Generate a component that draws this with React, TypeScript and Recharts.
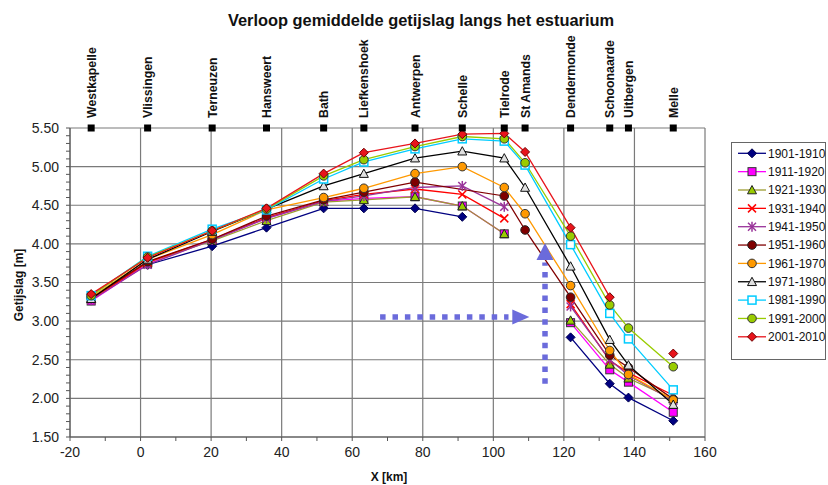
import React from 'react';
import { ComposedChart, Line, XAxis, YAxis, ReferenceLine, ReferenceDot } from 'recharts';

const FONT = 'Liberation Sans, Arial, Helvetica, sans-serif';

const stations = ['Westkapelle', 'Vlissingen', 'Terneuzen', 'Hansweert', 'Bath', 'Liefkenshoek', 'Antwerpen', 'Schelle', 'Tielrode', 'St Amands', 'Dendermonde', 'Schoonaarde', 'Uitbergen', 'Melle'];
const stationKm = [-14, 2, 20.3, 35.7, 51.9, 63.3, 77.8, 91.2, 103.1, 109.0, 121.9, 133.0, 138.3, 151.0];

const periods = ['1901-1910', '1911-1920', '1921-1930', '1931-1940', '1941-1950', '1951-1960', '1961-1970', '1971-1980', '1981-1990', '1991-2000', '2001-2010'];

const v1901 = [3.30, 3.73, 3.97, 4.21, 4.46, 4.46, 4.46, 4.35, null, null, 2.79, 2.19, 2.01, 1.71];
const v1911 = [3.26, 3.74, 4.05, 4.33, 4.55, 4.59, 4.61, 4.49, 4.13, null, 2.98, 2.37, 2.21, 1.82];
const v1921 = [3.29, 3.76, 4.04, 4.30, 4.54, 4.57, 4.61, 4.49, 4.13, null, 3.01, 2.44, 2.26, 1.99];
const v1931 = [3.28, 3.76, 4.06, 4.34, 4.56, 4.64, 4.71, 4.64, 4.33, null, 3.22, 2.49, 2.33, 2.04];
const v1941 = [3.27, 3.73, 4.05, 4.33, 4.55, 4.62, 4.73, 4.75, 4.48, null, 3.19, 2.50, 2.30, 1.97];
const v1951 = [3.30, 3.77, 4.06, 4.36, 4.57, 4.67, 4.80, null, 4.62, 4.18, 3.31, 2.56, 2.40, 1.99];
const v1961 = [3.31, 3.80, 4.12, 4.44, 4.60, 4.72, 4.91, 5.00, 4.73, 4.39, 3.46, 2.62, 2.31, 1.98];
const v1971 = [3.29, 3.80, 4.16, 4.45, 4.75, 4.91, 5.11, 5.20, 5.11, 4.73, 3.71, 2.76, 2.43, 1.92];
const v1981 = [3.33, 3.84, 4.19, 4.44, 4.84, 5.06, 5.23, 5.36, 5.33, 5.02, 3.99, 3.10, 2.77, 2.11];
const v1991 = [3.33, 3.83, 4.17, 4.45, 4.88, 5.09, 5.26, 5.39, 5.36, 5.05, 4.10, 3.21, 2.91, 2.41];
const v2001 = [3.35, 3.82, 4.17, 4.46, 4.91, 5.18, 5.30, 5.42, 5.43, 5.19, 4.21, 3.31, null, 2.58];

const seriesValues = [v1901, v1911, v1921, v1931, v1941, v1951, v1961, v1971, v1981, v1991, v2001];
const seriesColors = ['#000080', '#FF00FF', '#9C9C30', '#FF0000', '#993399', '#800000', '#FF9900', '#000000', '#00CCFF', '#99CC00', '#E8141B'];
const markerKinds = ['diamondNavy', 'squareMagenta', 'triangleOlive', 'cross', 'star', 'circleDark', 'circleOrange', 'triangleOpen', 'squareOpen', 'circleGreen', 'diamondRed'];

const xMajor = [-20, 0, 20, 40, 60, 80, 100, 120, 140, 160];
const xTicks = [-20, -10, 0, 10, 20, 30, 40, 50, 60, 70, 80, 90, 100, 110, 120, 130, 140, 150, 160];
const yMajor = [1.5, 2.0, 2.5, 3.0, 3.5, 4.0, 4.5, 5.0, 5.5];
const yTicks = Array.from({ length: 41 }, (_, i) => Math.round((1.5 + i * 0.1) * 10) / 10);

// Blue annotation arrows (data coordinates)
const arrowH = { fromKm: 67.9, toKm: 104.3, tipKm: 110.2, level: 3.055 };
const arrowV = { km: 114.65, from: 2.19, to: 3.76, tip: 4.01 };
const ARROW = '#6B6BDB';

const rows = stationKm.map((km, i) => {
  const r: any = { km };
  seriesValues.forEach((s, j) => { r['s' + j] = s[i]; });
  return r;
});

function drawMarker(kind: string, x: number, y: number) {
  switch (kind) {
    case 'diamondNavy':
      return <polygon points={`${x},${y - 4.5} ${x + 4.5},${y} ${x},${y + 4.5} ${x - 4.5},${y}`} fill="#000080" stroke="#000050" strokeWidth={1} />;
    case 'squareMagenta':
      return <rect x={x - 4} y={y - 4} width={8} height={8} fill="#FF00FF" stroke="#333" strokeWidth={1} />;
    case 'triangleOlive':
      return <polygon points={`${x},${y - 4.5} ${x + 4.5},${y + 3.8} ${x - 4.5},${y + 3.8}`} fill="#99CC00" stroke="#222" strokeWidth={1} />;
    case 'cross':
      return (
        <g stroke="#FF0000" strokeWidth={1.5}>
          <line x1={x - 4} y1={y - 4} x2={x + 4} y2={y + 4} />
          <line x1={x - 4} y1={y + 4} x2={x + 4} y2={y - 4} />
        </g>
      );
    case 'star':
      return (
        <g stroke="#993399" strokeWidth={1.5}>
          <line x1={x - 4} y1={y - 4} x2={x + 4} y2={y + 4} />
          <line x1={x - 4} y1={y + 4} x2={x + 4} y2={y - 4} />
          <line x1={x} y1={y - 5} x2={x} y2={y + 5} />
        </g>
      );
    case 'circleDark':
      return <circle cx={x} cy={y} r={4.3} fill="#800000" stroke="#222" strokeWidth={1} />;
    case 'circleOrange':
      return <circle cx={x} cy={y} r={4.3} fill="#FF9900" stroke="#333" strokeWidth={1} />;
    case 'triangleOpen':
      return <polygon points={`${x},${y - 4.5} ${x + 4.5},${y + 3.8} ${x - 4.5},${y + 3.8}`} fill="#E0E0E0" stroke="#111" strokeWidth={1} />;
    case 'squareOpen':
      return <rect x={x - 4} y={y - 4} width={8} height={8} fill="#FFFFFF" stroke="#00CCFF" strokeWidth={1.5} />;
    case 'circleGreen':
      return <circle cx={x} cy={y} r={4.3} fill="#99CC00" stroke="#333" strokeWidth={1} />;
    case 'diamondRed':
      return <polygon points={`${x},${y - 4.5} ${x + 4.5},${y} ${x},${y + 4.5} ${x - 4.5},${y}`} fill="#E8141B" stroke="#700000" strokeWidth={1} />;
    default:
      return null;
  }
}

const isMajorY = (v: number) => Math.abs(v * 2 - Math.round(v * 2)) < 1e-6;

export default function App() {
  return (
    <div style={{ position: 'absolute', left: 0, top: 0, width: 828, height: 485, background: '#fff', fontFamily: FONT }}>
      <ComposedChart width={828} height={485} data={rows} margin={{ top: 128, right: 123, bottom: 18, left: 20 }}>
        <XAxis
          type="number"
          dataKey="km"
          domain={[-20, 160]}
          ticks={xTicks}
          interval={0}
          height={30}
          stroke="#555"
          tickSize={4}
          tickMargin={6}
          tick={{ fill: '#222', fontSize: 14, fontFamily: FONT }}
          tickFormatter={(v: number) => (xMajor.includes(v) ? String(v) : '')}
        />
        <YAxis
          type="number"
          domain={[1.5, 5.5]}
          ticks={yTicks}
          interval={0}
          width={50}
          stroke="#555"
          tickSize={4}
          tickMargin={7}
          tick={{ fill: '#222', fontSize: 14, fontFamily: FONT }}
          tickFormatter={(v: number) => (isMajorY(v) ? v.toFixed(2) : '')}
        />
        {xMajor.map((v) => (
          <ReferenceLine key={'gx' + v} x={v} stroke="#7A7A7A" strokeWidth={1.2} />
        ))}
        {yMajor.map((v) => (
          <ReferenceLine key={'gy' + v} y={v} stroke="#7A7A7A" strokeWidth={1.2} />
        ))}
        <ReferenceLine
          segment={[{ x: arrowH.fromKm, y: arrowH.level }, { x: arrowH.toKm, y: arrowH.level }]}
          stroke={ARROW}
          strokeWidth={5.5}
          strokeDasharray="5.5 6.9"
        />
        <ReferenceDot
          x={arrowH.tipKm}
          y={arrowH.level}
          r={8}
          shape={(p: any) => (
            <polygon points={`${p.cx},${p.cy} ${p.cx - 17},${p.cy - 7.5} ${p.cx - 17},${p.cy + 7.5}`} fill={ARROW} />
          )}
        />
        <ReferenceLine
          segment={[{ x: arrowV.km, y: arrowV.from }, { x: arrowV.km, y: arrowV.to }]}
          stroke={ARROW}
          strokeWidth={5.5}
          strokeDasharray="5.5 6.3"
        />
        <ReferenceDot
          x={arrowV.km}
          y={arrowV.tip}
          r={8}
          shape={(p: any) => (
            <polygon points={`${p.cx},${p.cy} ${p.cx - 8.5},${p.cy + 17} ${p.cx + 8.5},${p.cy + 17}`} fill={ARROW} />
          )}
        />
        {seriesValues.map((_, j) => (
          <Line
            key={periods[j]}
            dataKey={'s' + j}
            name={periods[j]}
            stroke={seriesColors[j]}
            strokeWidth={1.3}
            isAnimationActive={false}
            connectNulls={j === 5}
            activeDot={false}
            dot={(p: any) =>
              p.cx == null || p.cy == null || p.value == null || Number.isNaN(p.cy) ? (
                <g key={'d' + j + '-' + p.index} />
              ) : (
                <g key={'d' + j + '-' + p.index}>{drawMarker(markerKinds[j], p.cx, p.cy)}</g>
              )
            }
          />
        ))}
        {stations.map((name, i) => (
          <ReferenceDot
            key={'st' + name}
            x={stationKm[i]}
            y={5.5}
            r={4}
            ifOverflow="visible"
            shape={(p: any) => (
              <g>
                <rect x={p.cx - 3.5} y={p.cy - 3.5} width={7} height={7} fill="#000" />
                <text
                  transform={`translate(${p.cx + 4.5},${p.cy - 10}) rotate(-90)`}
                  fontSize={12.3}
                  fontWeight="bold"
                  fontFamily={FONT}
                  fill="#111"
                >
                  {name}
                </text>
              </g>
            )}
          />
        ))}
      </ComposedChart>
      <svg width={828} height={485} style={{ position: 'absolute', left: 0, top: 0, pointerEvents: 'none' }}>
        <text x={421} y={26} textAnchor="middle" fontSize={16.4} fontWeight="bold" fontFamily={FONT} fill="#111">
          Verloop gemiddelde getijslag langs het estuarium
        </text>
        <text transform="translate(22.5,285) rotate(-90)" textAnchor="middle" fontSize={12} fontWeight="bold" fontFamily={FONT} fill="#111">
          Getijslag [m]
        </text>
        <text x={389} y={481} textAnchor="middle" fontSize={12} fontWeight="bold" fontFamily={FONT} fill="#111">
          X [km]
        </text>
        <rect x={731.5} y={142.5} width={94} height={217} fill="#fff" stroke="#666" strokeWidth={1} />
        {periods.map((p, i) => {
          const y = 153.3 + i * 18.35;
          return (
            <g key={'lg' + p}>
              <line x1={738} y1={y} x2={766} y2={y} stroke={seriesColors[i]} strokeWidth={1.3} />
              {drawMarker(markerKinds[i], 752, y)}
              <text x={768} y={y + 4.3} fontSize={12} fontFamily={FONT} fill="#111">
                {p}
              </text>
            </g>
          );
        })}
      </svg>
    </div>
  );
}
